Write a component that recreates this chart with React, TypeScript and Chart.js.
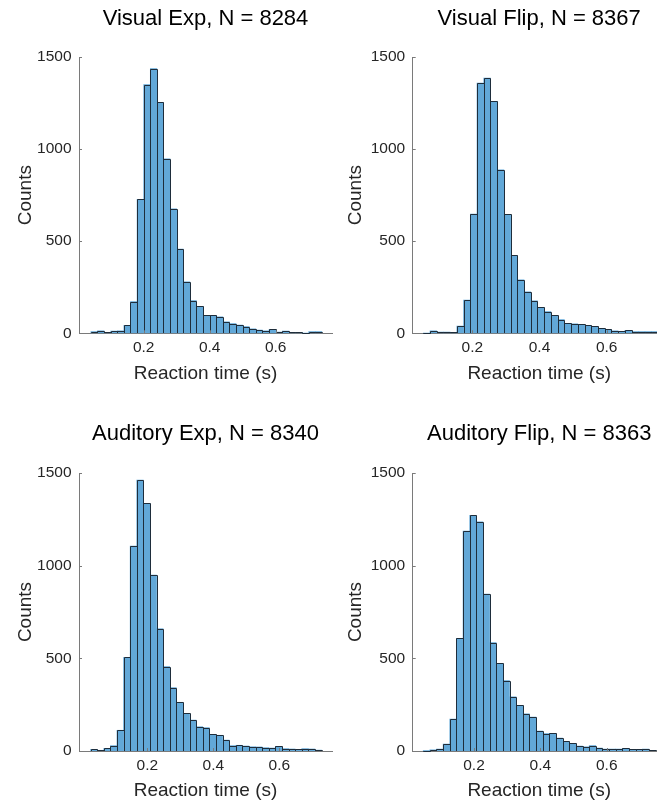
import React, { useEffect, useRef } from 'react';
import { Chart, registerables } from 'chart.js';

Chart.register(...registerables);

// ---- data ----
const BIN_WIDTH = 0.02;
const Y_TICKS = [0, 500, 1000, 1500];
const Y_TICK_LABELS = ['0', '500', '1000', '1500'];
const X_TICKS = [0.2, 0.4, 0.6];
const X_TICK_LABELS = ['0.2', '0.4', '0.6'];

const visualExpCounts = [9, 14, 5, 12, 14, 43, 172, 728, 1350, 1437, 1254, 947, 676, 457, 279, 178, 147, 98, 98, 89, 63, 53, 45, 36, 25, 18, 13, 22, 7, 12, 5, 5, 2, 9, 9];
const visualFlipCounts = [2, 13, 7, 7, 5, 40, 180, 647, 1359, 1386, 1259, 888, 645, 424, 290, 225, 176, 141, 118, 98, 74, 54, 51, 49, 43, 38, 27, 22, 13, 11, 16, 9, 9, 9, 9];
const auditoryExpCounts = [9, 4, 14, 29, 112, 505, 1106, 1462, 1336, 950, 660, 455, 342, 263, 203, 167, 131, 126, 90, 85, 59, 29, 31, 27, 23, 22, 18, 16, 25, 13, 11, 9, 13, 11, 5];
const auditoryFlipCounts = [2, 7, 11, 38, 173, 608, 1187, 1272, 1237, 847, 585, 473, 380, 293, 246, 201, 183, 108, 94, 95, 70, 52, 41, 27, 23, 29, 16, 11, 11, 11, 14, 9, 9, 11, 4];

const TITLES = ['Visual Exp, N = 8284', 'Visual Flip, N = 8367', 'Auditory Exp, N = 8340', 'Auditory Flip, N = 8363'];
const FIRST_EDGES = [0.04, 0.054, 0.028, 0.047];
const X_MINS = [0.004, 0.0226, -0.007, 0.0154];
const X_MAXS = [0.7707, 0.7756, 0.7597, 0.7775];
const X_LABEL = 'Reaction time (s)';
const Y_LABEL = 'Counts';

// ---- styles ----
const FONT = '"Liberation Sans", Arial, Helvetica, sans-serif';
const FILL = '#62A8D8';
const EDGE = '#1e2d3b';
const AXIS = '#7a7a7a';
const TEXT = '#262626';

type Layout = {
  left: number; top: number; w: number; h: number;
  yW: number; padR: number; tTop: number; tBot: number;
  xH: number; xTitleBot: number; yTitlePad: number;
};

const LAYOUTS: Layout[] = [
  { left: 0, top: 0, w: 340, h: 400, yW: 79, padR: 8, tTop: 5.9, tBot: 24.7, xH: 66.7, xTitleBot: 15.2, yTitlePad: 14.1 },
  { left: 340, top: 0, w: 340, h: 400, yW: 72.7, padR: 14.3, tTop: 5.9, tBot: 24.7, xH: 66.7, xTitleBot: 15.2, yTitlePad: 4.6 },
  { left: 0, top: 400, w: 340, h: 409, yW: 79, padR: 8, tTop: 20.9, tBot: 25.7, xH: 58, xTitleBot: 6.5, yTitlePad: 14.1 },
  { left: 340, top: 400, w: 340, h: 409, yW: 72.7, padR: 14.3, tTop: 20.9, tBot: 25.7, xH: 58, xTitleBot: 6.5, yTitlePad: 4.6 },
];

const COUNTS = [visualExpCounts, visualFlipCounts, auditoryExpCounts, auditoryFlipCounts];

// outlines each bar with a single 1px edge (shared edges between neighbours)
const barOutlines = {
  id: 'barOutlines',
  afterDatasetsDraw(chart: any) {
    const { ctx } = chart;
    const meta = chart.getDatasetMeta(0);
    ctx.save();
    ctx.strokeStyle = EDGE;
    ctx.lineWidth = 1;
    for (const bar of meta.data) {
      const { x, y, base, width } = bar.getProps(['x', 'y', 'base', 'width'], true);
      const l = Math.round(x - width / 2);
      const r = Math.round(x + width / 2);
      const t = Math.round(y);
      const b = Math.round(base);
      ctx.beginPath();
      ctx.moveTo(l + 0.5, b);
      ctx.lineTo(l + 0.5, t + 0.5);
      ctx.lineTo(r + 0.5, t + 0.5);
      ctx.lineTo(r + 0.5, b);
      ctx.stroke();
    }
    ctx.restore();
  },
};

const inwardTicks = {
  id: 'inwardTicks',
  afterDraw(chart: any) {
    const { ctx, chartArea, scales } = chart;
    ctx.save();
    ctx.strokeStyle = AXIS;
    ctx.lineWidth = 1;
    ctx.beginPath();
    for (const v of Y_TICKS) {
      const y = Math.round(scales.y.getPixelForValue(v)) + 0.5;
      ctx.moveTo(chartArea.left, y);
      ctx.lineTo(chartArea.left + 3, y);
    }
    for (const v of X_TICKS) {
      const x = Math.round(scales.x.getPixelForValue(v)) + 0.5;
      ctx.moveTo(x, chartArea.bottom);
      ctx.lineTo(x, chartArea.bottom - 3);
    }
    ctx.stroke();
    ctx.restore();
  },
};

function Panel({ idx }: { idx: number }) {
  const ref = useRef<HTMLCanvasElement>(null);
  const L = LAYOUTS[idx];
  useEffect(() => {
    const counts = COUNTS[idx];
    const first = FIRST_EDGES[idx];
    const chart = new Chart(ref.current as HTMLCanvasElement, {
      type: 'bar',
      data: {
        datasets: [
          {
            data: counts.map((c, i) => ({ x: first + (i + 0.5) * BIN_WIDTH, y: c })),
            backgroundColor: FILL,
            borderWidth: 0,
            barPercentage: 1,
            categoryPercentage: 1,
            inflateAmount: 0.3,
          } as any,
        ],
      },
      options: {
        responsive: false,
        animation: false,
        devicePixelRatio: 1,
        layout: { padding: { left: 0, right: L.padR, top: 0, bottom: 0 } },
        plugins: {
          legend: { display: false },
          tooltip: { enabled: false },
          title: {
            display: true,
            text: TITLES[idx],
            fullSize: false,
            color: '#000',
            font: { family: FONT, size: 22, weight: 'normal' },
            padding: { top: L.tTop, bottom: L.tBot },
          },
        },
        scales: {
          x: {
            type: 'linear',
            min: X_MINS[idx],
            max: X_MAXS[idx],
            offset: false,
            z: 1,
            grid: { display: false, drawTicks: false },
            border: { display: true, color: AXIS, width: 1 },
            ticks: {
              padding: 5,
              color: TEXT,
              font: { family: FONT, size: 15.5 },
              autoSkip: false,
              maxRotation: 0,
              callback: (_v: any, i: number) => X_TICK_LABELS[i],
            },
            afterBuildTicks: (s: any) => {
              s.ticks = X_TICKS.map((value) => ({ value }));
            },
            afterFit: (s: any) => {
              s.height = L.xH;
            },
            title: {
              display: true,
              text: X_LABEL,
              color: TEXT,
              font: { family: FONT, size: 19 },
              padding: { top: 0, bottom: L.xTitleBot },
            },
          } as any,
          y: {
            type: 'linear',
            min: 0,
            max: 1500,
            z: 1,
            grid: { display: false, drawTicks: false },
            border: { display: true, color: AXIS, width: 1 },
            ticks: {
              padding: 7.5,
              color: TEXT,
              font: { family: FONT, size: 15.5 },
              callback: (_v: any, i: number) => Y_TICK_LABELS[i],
            },
            afterBuildTicks: (s: any) => {
              s.ticks = Y_TICKS.map((value) => ({ value }));
            },
            afterFit: (s: any) => {
              s.width = L.yW;
            },
            title: {
              display: true,
              text: Y_LABEL,
              color: TEXT,
              font: { family: FONT, size: 19 },
              padding: { top: L.yTitlePad, bottom: 0 },
            },
          } as any,
        },
      },
      plugins: [barOutlines, inwardTicks],
    });
    return () => chart.destroy();
  }, [idx]);
  return (
    <canvas
      ref={ref}
      width={L.w}
      height={L.h}
      style={{ position: 'absolute', left: L.left, top: L.top, width: L.w, height: L.h }}
    />
  );
}

export default function App() {
  return (
    <div
      style={{
        position: 'absolute',
        left: 0,
        top: 0,
        width: 657,
        height: 809,
        overflow: 'hidden',
        background: '#fff',
      }}
    >
      {[0, 1, 2, 3].map((i) => (
        <Panel key={i} idx={i} />
      ))}
    </div>
  );
}
